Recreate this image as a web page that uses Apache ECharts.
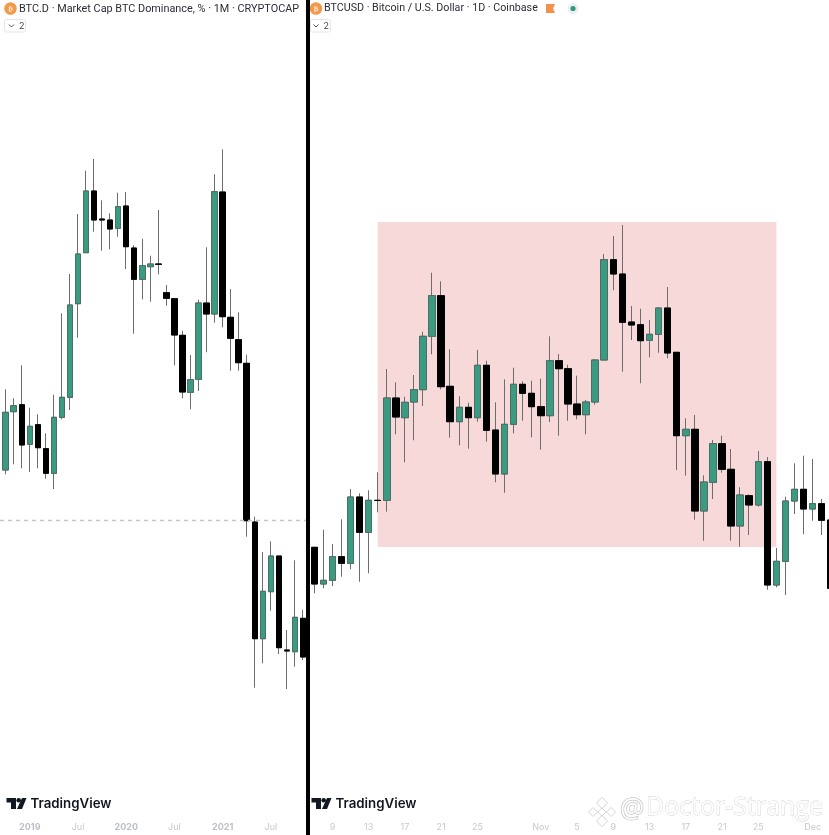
<!DOCTYPE html>
<html><head><meta charset="utf-8">
<style>html,body{margin:0;padding:0;background:#fff}#c{width:829px;height:835px}</style>
<script src="https://cdn.jsdelivr.net/npm/echarts@6/dist/echarts.min.js"></script>
</head><body><div id="c"></div>
<script>
// Values are in picture-scale units (no price axis is visible in the reference)
const leftMonths=['Oct','Nov','Dec','2019','Feb','Mar','Apr','May','Jun','Jul','Aug','Sep','Oct','Nov','Dec','2020','Feb','Mar','Apr','May','Jun','Jul','Aug','Sep','Oct','Nov','Dec','2021','Feb','Mar','Apr','May','Jun','Jul','Aug','Sep','Oct','Nov'];
const leftOpen=[365,423.3,430.3,390.7,410.3,386.3,361.7,417.7,437.7,531.3,582.3,644,616,615,606.7,629,587,555.7,568.3,571,542.3,536.3,499.7,442.7,455.7,532,521,643,517.7,495.3,471.7,313,196.3,243.3,279,185,183.3,216.7];
const leftClose=[422.7,429.3,390,408.7,387.3,361.7,417.7,437.7,530,581,644,615,615,606,628.3,588.3,555.7,569.3,571,570.7,536.7,500,443,455.3,532,521,643.3,518.3,496.7,472.3,314.3,196.3,243.7,279,187.3,184,217.7,178];
const leftHigh=[445.7,436.7,469.7,427.3,420.7,401.7,440.3,521.7,561,621,664.3,676,634.7,621.7,642.3,643,589.7,596.3,579.3,625,550,536.3,504.3,480,535.3,587.7,660.7,685.7,546,522.7,480.3,318.3,283,293.7,279,205,274.7,225.3];
const leftLow=[360.7,370.7,366.7,363,366.7,356.3,346,415.7,425,497.3,582.3,603.3,584.3,585.7,598.3,566,501.3,535.7,533.3,560.7,529.3,469.7,436.7,425.7,444,482.7,512.3,507.7,464.3,464.3,298.3,147.3,171.7,224.3,181,146,168.3,175];
const leftRefLevel=315;

const rightDays=['7','8','9','10','11','12','13','14','15','16','17','18','19','20','21','22','23','24','25','26','27','28','29','30','31','Nov','2','3','4','5','6','7','8','9','10','11','12','13','14','15','16','17','18','19','20','21','22','23','24','25','26','27','28','29','30','Dec','2','3'];
const rightOpen=[287.7,251,254.7,278.3,271.7,338,302.7,334.7,334.7,437,417.3,433,445.3,498.7,539.3,448.7,413.3,427.7,417.3,469.7,405,361,410.7,450.7,441.7,428.3,419.3,474.3,466.3,431,420.3,433,475,575.3,561,513,510.3,494.7,500.7,527,482.7,399.3,405.7,324,352.7,391.3,365.7,309,339.3,330,373.3,250,273.7,334,345.7,326,331.3,315];
const rightClose=[251,254.7,278.3,271.7,338,302.7,334.7,334.5,437,418,432.7,445.3,498.7,539.3,448.3,413.3,427.7,417.3,469.7,404.7,361,410.7,450.7,441.7,428.3,419.3,474.3,466.3,431,420.3,433,475,575.3,561,512.7,510,494.3,500.7,527,482,399.3,405.7,324,353,391.3,365.7,309,340,330,373.3,250,273.7,334,345.7,326,331.3,314.7,246.7];
const rightHigh=[287.7,305.3,291,315.7,346,341.7,344.7,362.7,466,452.7,438.3,460,503.3,562.3,553.7,485.7,438.7,432.3,485,474.3,432.7,455.7,467.3,453.7,454.3,456.3,498.7,481,470.3,459.3,435,475.7,581,599,610,529,526.3,515,527.7,548,482.7,416.7,420,359.7,395,399.3,386,347.7,340.7,384,378,287,338.3,371.7,379.3,376,336,315];
const rightLow=[241.7,246.7,249,258.3,265.7,253.3,261.7,322.7,323.3,400.7,372.7,394.7,429,480.7,445.7,397.3,389.7,386.3,413.3,393.3,352.7,342.3,401.7,414.3,397.7,385.3,413,399.3,414.3,415.7,400.7,430.3,474.7,544.7,463.3,495,451.7,477.7,482.3,476.7,365,359.3,315.3,294.3,336,362.3,294.3,288.3,300,328.3,245.3,247.7,240,321,300.7,314.3,300,246.7];
const rightZone={fromIndex:7,toIndex:51,top:613,bottom:288};
const rightTickNames=['9','13','17','21','25','Nov','5','Dec'];

const UP='#3b9a82',UPB='#4c6f64',DOWN='#000',WICK='#6d6d6d';
const fullData=(o,c,h,l)=>o.map((v,i)=>[v,c[i],l[i],h[i]]);
const bodyData=(o,c)=>o.map((v,i)=>[v,c[i],Math.min(v,c[i]),Math.max(v,c[i])]);
const gridDefs=[{left:1.68,top:0,width:305.3,height:815,outerBoundsMode:'none'},{left:309.77,top:0,width:525.5,height:815,outerBoundsMode:'none'}];
const labelBase={color:'#c6c9d1',fontSize:9,fontFamily:'Inter',margin:8};
const TXT='#2a2e39';
function tvLogo(ox){return [
 {type:'polygon',shape:{points:[[ox,798],[ox+9.5,798],[ox+9.5,809],[ox+4.5,809],[ox+4.5,802.5],[ox,802.5]]},style:{fill:'#131722'}},
 {type:'circle',shape:{cx:ox+12.2,cy:800.3,r:2.3},style:{fill:'#131722'}},
 {type:'polygon',shape:{points:[[ox+15.5,798],[ox+20,798],[ox+15.5,809],[ox+10.5,809]]},style:{fill:'#131722'}},
 {type:'text',x:ox+24,y:804,style:{text:'TradingView',font:'600 13.3px Inter',fill:'#131722',textVerticalAlign:'middle'}}
];}
function legendBox(x,w,cx){return [
 {type:'rect',shape:{x:x+.5,y:19.5,width:w,height:12.5,r:2},style:{fill:'#fff',stroke:'#e3e5ea',lineWidth:1}},
 {type:'polyline',shape:{points:[[cx,24.5],[cx+2.5,27],[cx+5,24.5]]},style:{stroke:'#4a4e59',lineWidth:1,fill:'none'}},
 {type:'text',x:cx+10,y:25.8,style:{text:'2',font:'9px Inter',fill:'#3a3e49',textVerticalAlign:'middle'}}
];}
function coin(cx){return [
 {type:'circle',shape:{cx:cx,cy:8.5,r:6.3},style:{fill:'#f39a4a'}},
 {type:'text',x:cx,y:8.7,style:{text:'₿',font:'700 7px "DejaVu Sans"',fill:'#fde9d6',textAlign:'center',textVerticalAlign:'middle'}}
];}
function diamond(cx,cy,r){return {type:'polygon',shape:{points:[[cx,cy-r],[cx+r,cy],[cx,cy+r],[cx-r,cy]]},style:{fill:'#fff',stroke:'#d4d4d6',lineWidth:1}};}
const graphicEls=[
 ...coin(10.5),
 {type:'text',x:19,y:8.8,style:{text:'BTC.D · Market Cap BTC Dominance, % · 1M · CRYPTOCAP',font:'10.85px Roboto',fill:TXT,textVerticalAlign:'middle'}},
 ...legendBox(4,21,9),
 ...coin(316),
 {type:'text',x:324,y:8.8,style:{text:'BTCUSD · Bitcoin / U.S. Dollar · 1D · Coinbase',font:'10.7px Roboto',fill:TXT,textVerticalAlign:'middle'}},
 ...legendBox(310,20,313.5),
 {type:'polygon',shape:{points:[[546,4],[555,4],[553,8.5],[555,13],[546,13]]},style:{fill:'#f0924a'}},
 {type:'circle',shape:{cx:573,cy:8.5,r:5.5},style:{fill:'#eceef1'}},
 {type:'circle',shape:{cx:573,cy:8.5,r:2.6},style:{fill:'#2f9a80'}},
 ...tvLogo(6.5),
 ...tvLogo(311.5),
 {type:'rect',shape:{x:306,y:0,width:4,height:835},style:{fill:'#000'},z:50},
 diamond(602,803,5.5),diamond(593,812,4.5),diamond(611,812,4.5),diamond(602,821,5.5),diamond(602,812,4),
 {type:'text',x:620,y:810,style:{text:'@',font:'27px "Open Sans"',fill:'#fff',stroke:'#c4c4c6',lineWidth:1.4,textVerticalAlign:'middle'}},
 {type:'text',x:646,y:808,style:{text:'Doctor-Strange',font:'25px "Open Sans"',fill:'#fff',stroke:'#cfcfd1',lineWidth:.8,textVerticalAlign:'middle'}}
];
const candleSeries=(name,idx,data,width,extra)=>Object.assign({name,type:'candlestick',xAxisIndex:idx,yAxisIndex:idx,data,barWidth:width,animation:false,silent:true,clip:true},extra);
const option={
 animation:false,backgroundColor:'#fff',
 grid:gridDefs,
 graphic:{elements:graphicEls},
 xAxis:[
  {type:'category',gridIndex:0,data:leftMonths,axisLine:{show:false},axisTick:{show:false},splitLine:{show:false},
   axisLabel:Object.assign({},labelBase,{hideOverlap:false,interval:(i,n)=>n==='Jul'||/^\d{4}$/.test(n),
     formatter:n=>/^\d{4}$/.test(n)?'{y|'+n+'}':n,rich:{y:{fontWeight:700,fontSize:9,color:'#bcbfc7',fontFamily:'Inter'}}})},
  {type:'category',gridIndex:1,data:rightDays,axisLine:{show:false},axisTick:{show:false},splitLine:{show:false},
   axisLabel:Object.assign({},labelBase,{hideOverlap:false,interval:(i,n)=>rightTickNames.includes(n)})}
 ],
 yAxis:[0,1].map(i=>({type:'value',gridIndex:i,min:20,max:835,show:false,splitLine:{show:false}})),
 series:[
  candleSeries('BTC.D wicks',0,fullData(leftOpen,leftClose,leftHigh,leftLow),6,{z:3,itemStyle:{color:UP,color0:DOWN,borderColor:WICK,borderColor0:WICK,borderWidth:1},
    markLine:{silent:true,symbol:'none',animation:false,label:{show:false},lineStyle:{color:'#c4c4c4',type:[4,4],width:1.3},data:[[{x:0,yAxis:leftRefLevel},{x:306,yAxis:leftRefLevel}]]}}),
  candleSeries('BTC.D',0,bodyData(leftOpen,leftClose),6,{z:4,itemStyle:{color:UP,color0:DOWN,borderColor:UPB,borderColor0:DOWN,borderWidth:1}}),
  candleSeries('BTCUSD wicks',1,fullData(rightOpen,rightClose,rightHigh,rightLow),7,{z:3,itemStyle:{color:UP,color0:DOWN,borderColor:WICK,borderColor0:WICK,borderWidth:1},
    markArea:{silent:true,animation:false,itemStyle:{color:'#f7d9da'},data:[[{xAxis:rightZone.fromIndex,yAxis:rightZone.top},{xAxis:rightZone.toIndex,yAxis:rightZone.bottom}]]}}),
  candleSeries('BTCUSD',1,bodyData(rightOpen,rightClose),7,{z:4,itemStyle:{color:UP,color0:DOWN,borderColor:UPB,borderColor0:DOWN,borderWidth:1}})
 ]
};
echarts.init(document.getElementById('c'),null,{renderer:'canvas'}).setOption(option);
</script></body></html>
